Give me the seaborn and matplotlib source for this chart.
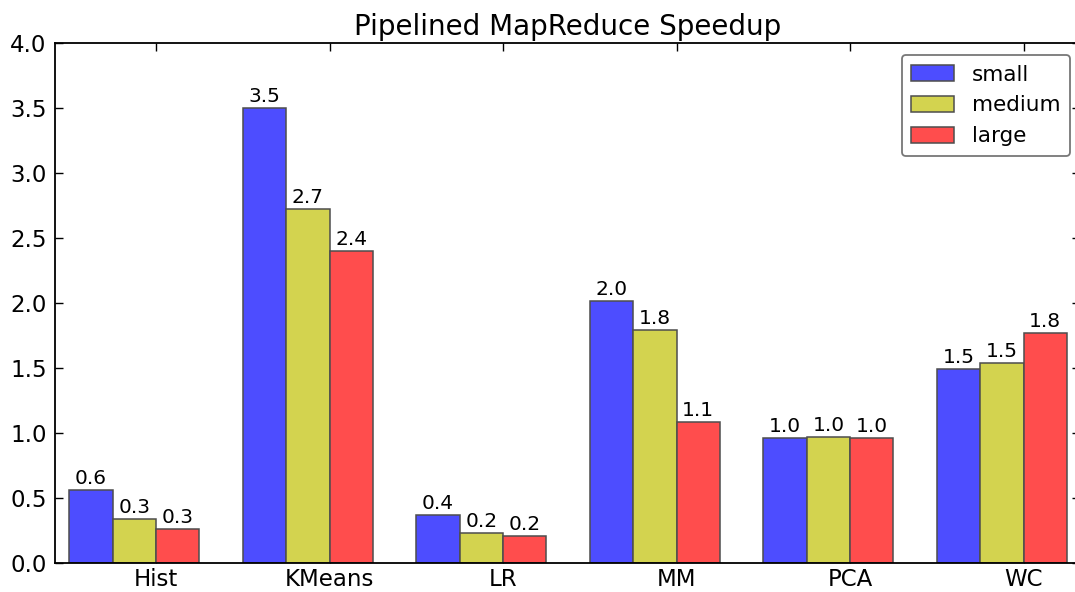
import matplotlib
matplotlib.use("Agg")
import matplotlib.pyplot as plt
import numpy as np
import pandas as pd
import seaborn as sns

# Speedup of the pipelined MapReduce runtime per benchmark and input size
benchmarks = ["Hist", "KMeans", "LR", "MM", "PCA", "WC"]
sizes = ["small", "medium", "large"]
small = [0.56, 3.50, 0.37, 2.015, 0.96, 1.49]
medium = [0.34, 2.72, 0.236, 1.79, 0.972, 1.537]
large = [0.26, 2.40, 0.21, 1.085, 0.96, 1.772]
yticks = [0.0, 0.5, 1.0, 1.5, 2.0, 2.5, 3.0, 3.5, 4.0]
colors = ["#4d4dff", "#d3d34f", "#ff4d4d"]

df = pd.DataFrame({
    "benchmark": benchmarks * 3,
    "size": [s for s in sizes for _ in benchmarks],
    "speedup": small + medium + large,
})

sns.set_theme(style="ticks", rc={
    "xtick.direction": "in",
    "ytick.direction": "in",
    "xtick.top": True,
    "ytick.right": True,
    "xtick.major.size": 5.8,
    "ytick.major.size": 5.8,
    "axes.linewidth": 1.3,
    "axes.edgecolor": "black",
    "text.color": "black",
    "axes.labelcolor": "black",
    "xtick.color": "black",
    "ytick.color": "black",
})
plt.rcParams["font.family"] = ["DejaVu Sans"]

fig = plt.figure(figsize=(10.75, 5.92), dpi=100)
ax = fig.add_axes([55 / 1075, 28.7 / 592, (1080 - 55) / 1075, 520.3 / 592])

sns.barplot(data=df, x="benchmark", y="speedup", hue="size",
            order=benchmarks, hue_order=sizes, palette=colors,
            saturation=1, width=0.75, edgecolor="#4d4d4d", linewidth=1.1,
            errorbar=None, ax=ax)

for cont in ax.containers:
    ax.bar_label(cont, fmt="%.1f", padding=1.5, fontsize=14.5, color="black")

ax.set_ylim(0, 4.0)
ax.set_yticks(yticks)
ax.set_yticklabels([f"{v:.1f}" for v in yticks])
ax.set_xticks(np.arange(len(benchmarks)) + 0.125)
ax.set_xticklabels(benchmarks)
ax.set_xlim(-0.457, 5.45)
ax.tick_params(labelsize=16.5, width=1, colors="black")
ax.tick_params(axis="y", pad=6)
ax.tick_params(axis="x", pad=3.5)
ax.set_xlabel("")
ax.set_ylabel("")
ax.set_title("Pipelined MapReduce Speedup", fontsize=20, pad=6, color="black")

leg = ax.legend(loc="upper right", bbox_to_anchor=(1070 / 1075, 1 - 55 / 592),
                bbox_transform=fig.transFigure, borderaxespad=0, fontsize=15.5,
                fancybox=True, framealpha=1, edgecolor="#777777",
                handlelength=2.0, handleheight=0.75, handletextpad=0.8,
                labelspacing=0.5, borderpad=0.45)
leg.get_frame().set_linewidth(1.3)
for t in leg.get_texts():
    t.set_color("black")

fig.savefig("out.png", dpi=100)
